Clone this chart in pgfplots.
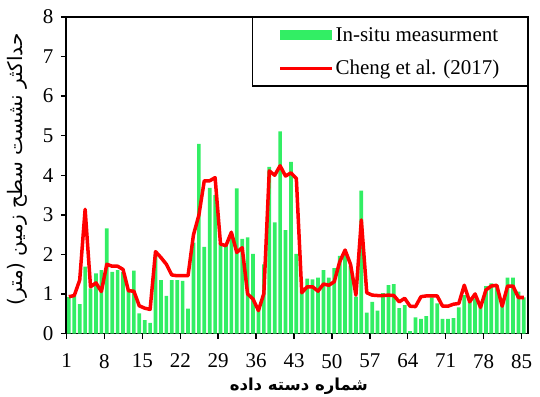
\documentclass[border=0pt]{standalone}
\usepackage{pgfplots}
\pgfplotsset{compat=1.18}
\usepackage{pgfplotstable}
\usepackage{fontspec}
\setmainfont{Liberation Serif}
\newfontfamily\arabicfont[Script=Arabic]{DejaVu Sans}
\TeXXeTstate=1
\definecolor{bargreen}{RGB}{50,238,100}
\definecolor{linered}{RGB}{255,0,0}

\pgfplotstableread{
x bar model
1 0.92 0.93
2 0.95 0.96
3 0.74 1.35
4 1.69 3.14
5 1.14 1.18
6 1.52 1.28
7 1.60 1.06
8 2.66 1.75
9 1.56 1.70
10 1.60 1.70
11 1.55 1.62
12 1.12 1.08
13 1.59 1.07
14 0.51 0.70
15 0.34 0.64
16 0.27 0.61
17 1.98 2.07
18 1.35 1.92
19 0.95 1.75
20 1.35 1.48
21 1.35 1.46
22 1.33 1.46
23 0.63 1.46
24 2.30 2.49
25 4.79 2.99
26 2.19 3.86
27 3.68 3.86
28 3.50 3.94
29 2.28 2.26
30 2.23 2.22
31 2.45 2.56
32 3.67 2.05
33 2.39 2.17
34 2.43 1.00
35 2.01 0.87
36 0.60 0.58
37 1.75 1.01
38 4.21 4.11
39 2.81 4.00
40 5.11 4.24
41 2.61 3.98
42 4.34 4.06
43 2.01 3.92
44 1.05 1.03
45 1.39 1.18
46 1.37 1.18
47 1.41 1.07
48 1.60 1.25
49 1.41 1.22
50 1.65 1.31
51 1.96 1.81
52 2.05 2.11
53 1.70 1.75
54 0.93 0.97
55 3.61 2.87
56 0.53 1.03
57 0.80 0.97
58 0.58 0.96
59 1.02 0.96
60 1.22 0.97
61 1.25 0.96
62 0.64 0.80
63 0.72 0.89
64 0.06 0.69
65 0.41 0.68
66 0.37 0.93
67 0.44 0.95
68 0.91 0.95
69 0.76 0.95
70 0.37 0.69
71 0.37 0.69
72 0.39 0.74
73 0.66 0.76
74 0.97 1.22
75 0.80 0.80
76 0.89 1.00
77 0.68 0.66
78 1.20 1.10
79 1.27 1.20
80 1.22 1.22
81 0.78 0.69
82 1.41 1.20
83 1.41 1.20
84 1.06 0.91
85 0.91 0.91
}\data

\begin{document}
\begin{tikzpicture}
\begin{axis}[
  at={(0,0)}, anchor=south west,
  scale only axis, width=462pt, height=316.5pt,
  xmin=0.47, xmax=85.77, ymin=0, ymax=8,
  xtick={0.57,7.57,14.57,21.57,28.57,35.57,42.57,49.57,56.57,63.57,70.57,77.57,84.57},
  xticklabels={1,8,15,22,29,36,43,50,57,64,71,78,85},
  ytick={0,1,2,3,4,5,6,7,8},
  tick align=outside, xtick pos=left, ytick pos=left,
  major tick length=5pt,
  axis line style={line width=1.4pt},
  every tick/.style={line width=1.4pt, black},
  ticklabel style={font=\fontsize{21}{24}\selectfont},
  xticklabel style={yshift=-12pt},
  yticklabel style={xshift=-4pt},
  /pgf/number format/assume math mode=true,
  xlabel={\arabicfont\bfseries\beginR شماره دسته داده\endR},
  ylabel={\arabicfont\beginR حداکثر نشست سطح زمین (متر)\endR},
  xlabel style={font=\fontsize{16.5}{20}\selectfont, at={(axis description cs:0.504,-0.1675)}, anchor=center},
  ylabel style={font=\fontsize{20}{22}\selectfont, at={(axis description cs:-0.106,0.518)}, anchor=center},
  legend style={at={(1,1)}, anchor=north east, draw=black, line width=1.2pt,
    font=\fontsize{21}{24}\selectfont, inner xsep=26pt, inner ysep=8pt, row sep=13pt},
  legend cell align=left,
  clip=true,
]
\addplot[ybar, bar width=3.7pt, fill=bargreen, draw=none,
  legend image code/.code={\fill[bargreen] (0pt,-5pt) rectangle (52pt,5pt);}]
  table[x=x, y=bar]{\data};
\addlegendentry{In-situ measurment}
\addplot[linered, line width=3.5pt, line join=round, mark=none,
  legend image code/.code={\draw[linered, line width=3pt] (0pt,0pt) -- (52pt,0pt);}]
  table[x=x, y=model]{\data};
\addlegendentry{Cheng et al. (2017)}
\end{axis}
\pgfresetboundingbox
\path[use as bounding box] (-66pt,-62.5pt) rectangle (474pt,333.5pt);
\end{tikzpicture}
\end{document}
